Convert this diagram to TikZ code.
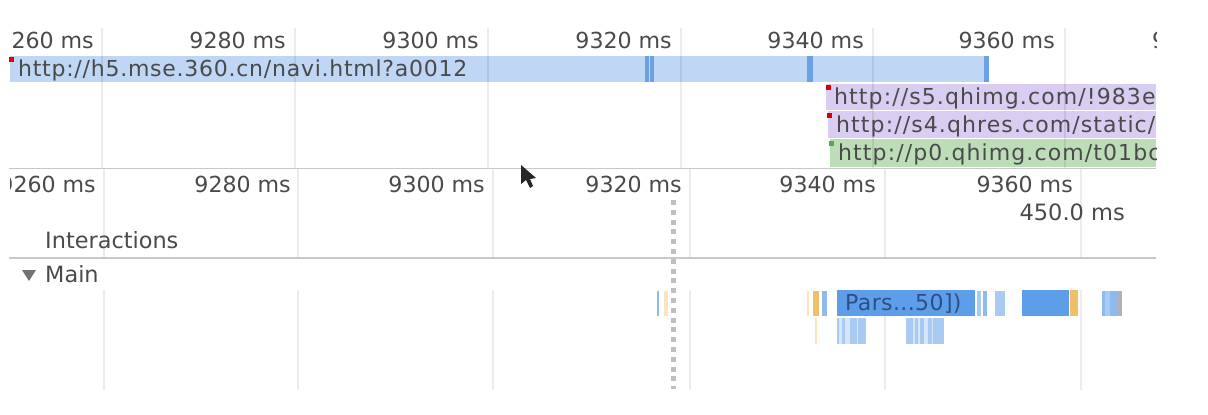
\documentclass[tikz,border=0pt]{standalone}
\usepackage{fontspec}
\setmainfont{DejaVu Sans}
\newfontfamily\urlfont[LetterSpace=3.4]{DejaVu Sans}
\newfontfamily\sideurlfont[LetterSpace=5]{DejaVu Sans}
\newfontfamily\parsefont[LetterSpace=1.8]{DejaVu Sans}
\usepackage{tikz}
\usetikzlibrary{positioning}
\definecolor{inktext}{HTML}{4A4A4A}
\definecolor{ruleline}{HTML}{C8C8C8}
\definecolor{parsetext}{HTML}{2C4F86}
\definecolor{netblue}{HTML}{BFD6F4}
\definecolor{netdark}{HTML}{6CA2E4}
\definecolor{netpurple}{HTML}{D9CDF2}
\definecolor{netgreen}{HTML}{BCDDB8}
\definecolor{taskblue}{HTML}{5E9DE8}
\definecolor{taskpale}{HTML}{A9CBF2}
\definecolor{taskfaint}{HTML}{D6E5F8}
\definecolor{taskorange}{HTML}{F0C066}
\definecolor{taskyellow}{HTML}{F8E6C0}
\tikzstyle{gridrule}=[black, opacity=0.08, line width=1.2pt]
\tikzstyle{timelabel}=[anchor=base east, inner sep=0pt, text=inktext, font=\fontsize{22.1}{26}\selectfont]
\tikzstyle{urllabel}=[anchor=base west, inner sep=0pt, text=inktext, font=\fontsize{22}{26}\urlfont]
\tikzstyle{sideurl}=[anchor=base west, inner sep=0pt, text=inktext, font=\fontsize{22}{26}\sideurlfont]
\tikzstyle{tracklabel}=[anchor=base west, inner sep=0pt, text=inktext, font=\fontsize{22.4}{26}\selectfont]
\begin{document}
\begin{tikzpicture}[x=1pt, y=-1pt]
	\useasboundingbox [fill=white] (0,0) rectangle (1208,415);
	% network bars
	\fill [netblue] (10,56) rectangle (988,82);
	\foreach \xa/\xb in {645/649, 650/654, 807/813, 984/989}
		\fill [netdark] (\xa,56) rectangle (\xb,82);
	\fill [netpurple] (826,84) rectangle (1156,110);
	\fill [netpurple] (828,111) rectangle (1156,138);
	\fill [netgreen] (830,139) rectangle (1156,167);
	\fill [red!85!black] (9,57) rectangle (14,62);
	\fill [red!85!black] (826,85) rectangle (831,90);
	\fill [red!85!black] (827,113) rectangle (832,118);
	\fill [green!55!black!70] (829,141) rectangle (834,146);
	% grid lines
	\foreach \x in {102, 295, 488, 681, 873, 1065}
		\draw [gridrule] (\x,28) -- (\x,168);
	\foreach \x in {104, 298, 493, 690, 885, 1081} {
		\draw [gridrule] (\x,168) -- (\x,258);
		\draw [gridrule] (\x,290) -- (\x,390);
	}
	\draw [ruleline, line width=1.5pt] (9,168.5) -- (1156,168.5);
	\draw [ruleline, line width=1.5pt] (9,258) -- (1156,258);
	% main thread
	\foreach \xa/\xb in {657/659, 822/827, 983/987, 1102/1105, 1110/1117}
		\fill [taskblue!70] (\xa,291) rectangle (\xb,316);
	\foreach \xa/\xb in {977/981, 995/1005, 1105/1110}
		\fill [taskpale] (\xa,291) rectangle (\xb,316);
	\fill [taskyellow] (664,291) rectangle (668,316);
	\fill [taskyellow] (807,291) rectangle (809,316);
	\fill [taskorange] (813,291) rectangle (819,316);
	\fill [taskblue] (837,290) rectangle (975,316);
	\fill [taskblue] (1022,290) rectangle (1069,316);
	\fill [taskorange] (1070,290) rectangle (1078,316);
	\fill [black!30] (1117,291) rectangle (1122,316);
	\fill [taskyellow] (815,318) rectangle (817,344);
	\fill [taskfaint] (837,318) rectangle (866,344);
	\fill [taskfaint] (906,318) rectangle (944,344);
	\foreach \xa/\xb in {837/839, 842/845, 850/857, 858/866, 906/913, 915/918, 920/924, 928/932, 933/944}
		\fill [taskpale] (\xa,318) rectangle (\xb,344);
	% marker
	\draw [black!25, line width=5pt, dash pattern=on 5pt off 4.8pt] (673,200) -- (673,389);
	% labels
	\node (topa) [timelabel] at (94,48) {260 ms};
	\node (topb) [timelabel] at (286,48) {9280 ms};
	\node (topc) [timelabel] at (479,48) {9300 ms};
	\node (topd) [timelabel] at (672,48) {9320 ms};
	\node (tope) [timelabel] at (864,48) {9340 ms};
	\node (topf) [timelabel] at (1055,48) {9360 ms};
	\node (urlmain) [urllabel] at (18,76) {http://h5.mse.360.cn/navi.html?a0012};
	\node (lowb) [timelabel] at (291,192) {9280 ms};
	\node (lowc) [timelabel] at (485,192) {9300 ms};
	\node (lowd) [timelabel] at (682,192) {9320 ms};
	\node (lowe) [timelabel] at (876,192) {9340 ms};
	\node (lowf) [timelabel] at (1073,192) {9360 ms};
	\begin{scope}
		\clip (10,0) rectangle (1156,415);
		\node (topg) [tracklabel] at (1152,48) {9};
		\node (urlsfive) [sideurl] at (834,104) {http://s5.qhimg.com/!983e};
		\node (urlsfour) [sideurl] at (836,132) {http://s4.qhres.com/static/};
		\node (urlpzero) [sideurl] at (838,160) {http://p0.qhimg.com/t01bc};
		\node (lowa) [timelabel] at (96,192) {9260 ms};
	\end{scope}
	\node (total) [timelabel, font=\fontsize{22.5}{26}\selectfont] at (1125,220) {450.0 ms};
	\node (interactions) [tracklabel] at (45,248) {Interactions};
	\node (main) [tracklabel] at (45,282) {Main};
	\node (parse) [tracklabel, text=parsetext, font=\fontsize{22}{26}\parsefont] at (845,310) {Pars...50])};
	\fill [black!55] (22,270) -- (36,270) -- (29,281) -- cycle;
	% pointer
	\fill [black!85] (521,165) -- (521,184) -- (526,180) -- (530,188) -- (533,186) -- (530,179) -- (536,178) -- cycle;
\end{tikzpicture}
\end{document}
